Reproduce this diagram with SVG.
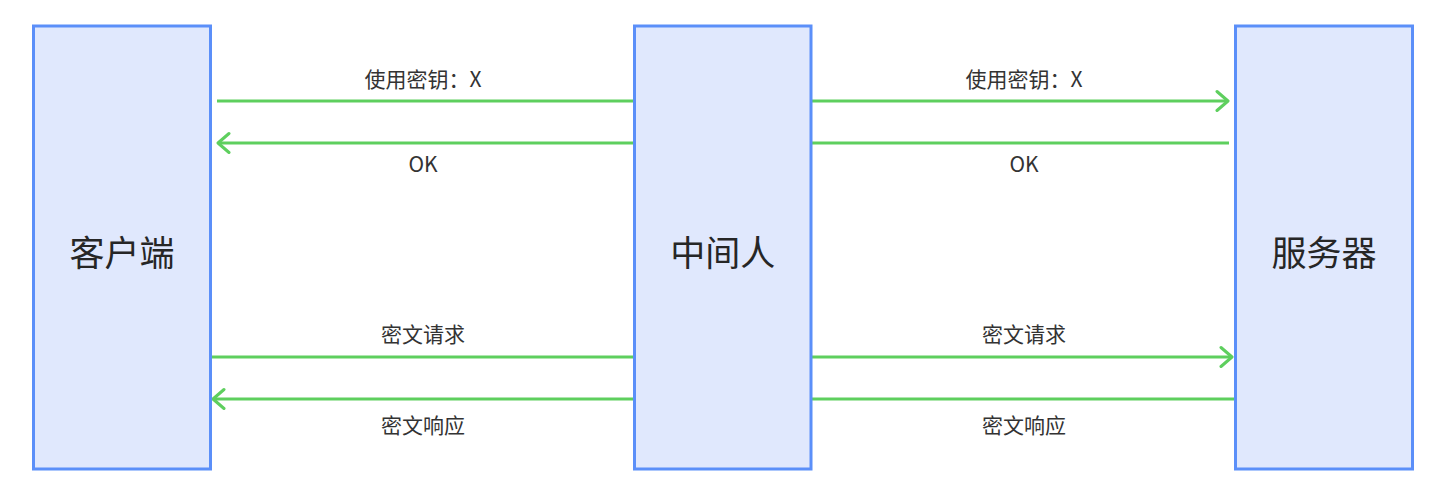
<svg xmlns="http://www.w3.org/2000/svg" width="1443" height="500" viewBox="0 0 1443 500">
<style>
.node rect{fill:#e0e8fd;stroke:#5b8ff9;stroke-width:3}
.node text{font-family:"Noto Sans CJK SC","Noto Sans",sans-serif;font-size:35px;fill:#262626;text-anchor:middle;dominant-baseline:central}
.edges line{stroke:#5ecf5e;stroke-width:3;fill:none}
.lbl{font-family:"Noto Sans CJK SC","Noto Sans",sans-serif;font-size:21px;fill:#333;text-anchor:middle;dominant-baseline:central}
</style>
<defs>
<marker id="arr" markerUnits="userSpaceOnUse" viewBox="-14 -12 16 24" refX="0" refY="0" markerWidth="16" markerHeight="24" orient="auto">
<path d="M-11,-9.5 L0,0 L-11,9.5" fill="none" stroke="#5ecf5e" stroke-width="3" stroke-linecap="round" stroke-linejoin="round"/>
</marker>
</defs>
<rect width="1443" height="500" fill="#ffffff"/>
<g class="edges">
<line x1="217" y1="101" x2="633" y2="101"/>
<line x1="633" y1="143" x2="218" y2="143" marker-end="url(#arr)"/>
<line x1="812" y1="101" x2="1228" y2="101" marker-end="url(#arr)"/>
<line x1="1229" y1="143" x2="812" y2="143"/>
<line x1="211" y1="357" x2="633" y2="357"/>
<line x1="633" y1="399" x2="213" y2="399" marker-end="url(#arr)"/>
<line x1="812" y1="357" x2="1232" y2="357" marker-end="url(#arr)"/>
<line x1="1235" y1="399" x2="812" y2="399"/>
<text class="lbl" x="423" y="78">使用密钥：X</text>
<text class="lbl" x="423" y="163">OK</text>
<text class="lbl" x="1024" y="78">使用密钥：X</text>
<text class="lbl" x="1024" y="163">OK</text>
<text class="lbl" x="423" y="333">密文请求</text>
<text class="lbl" x="423" y="424">密文响应</text>
<text class="lbl" x="1024" y="333">密文请求</text>
<text class="lbl" x="1024" y="424">密文响应</text>
</g>
<g id="client" class="node">
<rect x="33.5" y="26" width="177" height="443"/>
<text x="122" y="250">客户端</text>
</g>
<g id="mitm" class="node">
<rect x="634.5" y="26" width="176.5" height="443"/>
<text x="722.75" y="250">中间人</text>
</g>
<g id="server" class="node">
<rect x="1235.5" y="26" width="177" height="443"/>
<text x="1324" y="250">服务器</text>
</g>
</svg>
